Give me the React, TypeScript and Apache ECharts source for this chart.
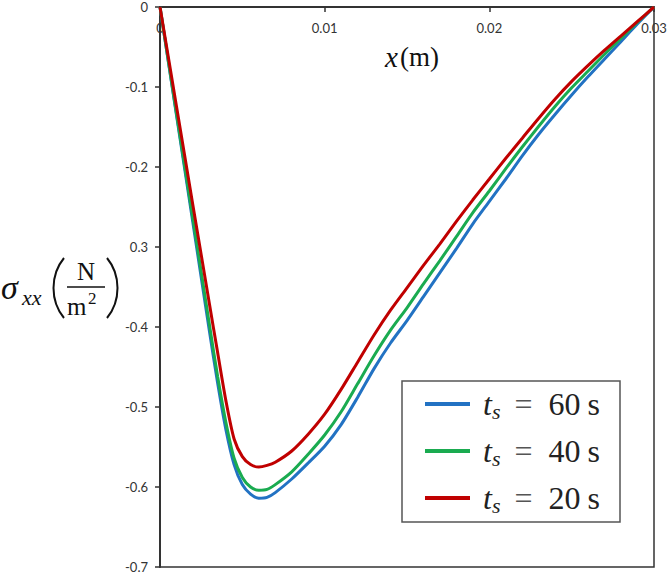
import React, { useEffect, useRef } from "react";
import * as echarts from "echarts";

const xValues = [0, 0.001, 0.002, 0.003, 0.0035, 0.004, 0.0045, 0.005, 0.0055, 0.006, 0.0065, 0.007, 0.008, 0.009, 0.01, 0.011, 0.012, 0.013, 0.014, 0.015, 0.016, 0.017, 0.018, 0.019, 0.02, 0.021, 0.022, 0.023, 0.024, 0.025, 0.026, 0.027, 0.028, 0.029, 0.03];

const ts60 = [0, -0.135, -0.27, -0.405, -0.47, -0.528, -0.572, -0.597, -0.609, -0.614, -0.613, -0.607, -0.59, -0.57, -0.549, -0.522, -0.488, -0.452, -0.42, -0.392, -0.362, -0.332, -0.302, -0.271, -0.243, -0.215, -0.186, -0.159, -0.134, -0.11, -0.087, -0.065, -0.043, -0.021, 0];

const ts40 = [0, -0.133, -0.265, -0.397, -0.462, -0.519, -0.564, -0.588, -0.6, -0.604, -0.603, -0.597, -0.581, -0.559, -0.535, -0.506, -0.471, -0.436, -0.404, -0.376, -0.346, -0.317, -0.287, -0.257, -0.23, -0.202, -0.175, -0.149, -0.124, -0.101, -0.08, -0.059, -0.039, -0.019, 0];

const ts20 = [0, -0.124, -0.248, -0.371, -0.432, -0.492, -0.54, -0.562, -0.572, -0.575, -0.573, -0.569, -0.555, -0.534, -0.509, -0.478, -0.444, -0.41, -0.379, -0.351, -0.323, -0.296, -0.268, -0.241, -0.215, -0.189, -0.164, -0.139, -0.115, -0.093, -0.073, -0.054, -0.036, -0.018, 0];

const seriesNames = ["60", "40", "20"];
const seriesColors = ["#2272C3", "#1AAB50", "#C00000"];
const xTickLabels = ["0", "0.01", "0.02", "0.03"];
const yTickLabels = ["0", "-0.1", "-0.2", "0.3", "-0.4", "-0.5", "-0.6", "-0.7"];

const SERIF = "'Liberation Serif', 'DejaVu Serif', serif";
const SANS = "Lato, 'Liberation Sans', sans-serif";

export default function App() {
  const ref = useRef<HTMLDivElement>(null);

  useEffect(() => {
    if (!ref.current) return;
    const chart = echarts.init(ref.current, null, { renderer: "svg" });
    const allData = [ts60, ts40, ts20];

    const txt = (x: number, y: number, text: string, size: number, italic: boolean, align = "left") => ({
      type: "text",
      x,
      y,
      style: {
        text,
        fontSize: size,
        fontFamily: SERIF,
        fontStyle: italic ? "italic" : "normal",
        fill: "#111",
        textAlign: align,
        align,
        textVerticalAlign: "middle",
        verticalAlign: "middle",
      },
    });

    chart.setOption({
      animation: false,
      backgroundColor: "#fff",
      grid: {
        left: 160,
        right: 15,
        top: 7,
        bottom: 7,
        containLabel: false,
        outerBoundsMode: "none",
        show: true,
        borderColor: "#333",
        borderWidth: 1.5,
        backgroundColor: "transparent",
      },
      xAxis: {
        type: "value",
        position: "top",
        min: 0,
        max: 0.03,
        interval: 0.01,
        axisLine: { show: true, lineStyle: { color: "#333", width: 2 } },
        axisTick: { show: true, inside: true, length: 5, lineStyle: { color: "#333", width: 1.5 } },
        axisLabel: {
          inside: true,
          margin: 14,
          fontSize: 13,
          fontFamily: SANS,
          color: "#333",
          showMinLabel: true,
          showMaxLabel: true,
          formatter: (v: number) => xTickLabels[Math.round(v / 0.01)] ?? "",
        },
        splitLine: { show: false },
      },
      yAxis: {
        type: "value",
        min: -0.7,
        max: 0,
        interval: 0.1,
        axisLine: { show: true, lineStyle: { color: "#333", width: 2 } },
        axisTick: { show: true, inside: false, length: 5, lineStyle: { color: "#333", width: 1.5 } },
        axisLabel: {
          margin: 12,
          fontSize: 13,
          fontFamily: SANS,
          color: "#333",
          showMinLabel: true,
          showMaxLabel: true,
          formatter: (v: number) => yTickLabels[Math.round(-v * 10)] ?? "",
        },
        splitLine: { show: false },
      },
      legend: {
        orient: "vertical",
        left: 420,
        top: 381,
        itemWidth: 45,
        itemHeight: 4,
        itemGap: 11,
        icon: "rect",
        data: seriesNames,
        formatter: (name: string) => `{t|t}{s|s}{e|=}{n|${name}}{u|s}`,
        textStyle: {
          lineHeight: 36,
          rich: {
            t: { fontFamily: SERIF, fontStyle: "italic", fontSize: 32, color: "#222", padding: [0, 0, 0, 8] },
            s: { fontFamily: SERIF, fontStyle: "italic", fontSize: 22, color: "#222", verticalAlign: "bottom" },
            e: { fontFamily: SERIF, fontSize: 32, color: "#555", padding: [0, 16, 0, 14] },
            n: { fontFamily: SERIF, fontSize: 32, color: "#222" },
            u: { fontFamily: SERIF, fontSize: 32, color: "#222", padding: [0, 0, 0, 7] },
          },
        },
      },
      graphic: [
        {
          type: "rect",
          shape: { x: 402, y: 381, width: 218, height: 141 },
          style: { fill: "transparent", stroke: "#555", lineWidth: 1.5 },
          z: 3,
        },
        {
          type: "text",
          x: 412,
          y: 57,
          style: {
            text: "{i|x}{n|(m)}",
            textAlign: "center",
            align: "center",
            textVerticalAlign: "middle",
            verticalAlign: "middle",
            rich: {
              i: { fontFamily: SERIF, fontStyle: "italic", fontSize: 29, fill: "#111", color: "#111" },
              n: { fontFamily: SERIF, fontSize: 27, fill: "#111", color: "#111", padding: [0, 0, 0, 2] },
            },
          },
        },
        txt(1, 287, "σ", 34, true),
        txt(22, 297, "xx", 22, true),
        {
          type: "bezierCurve",
          shape: { x1: 64, y1: 258, x2: 64, y2: 318, cpx1: 50, cpy1: 275, cpx2: 50, cpy2: 301 },
          style: { stroke: "#111", lineWidth: 2, fill: "none" },
        },
        txt(86, 271, "N", 25, false, "center"),
        {
          type: "line",
          shape: { x1: 67, y1: 287, x2: 105, y2: 287 },
          style: { stroke: "#111", lineWidth: 1.5 },
        },
        txt(67, 306, "m", 25, false),
        txt(88, 298, "2", 17, false),
        {
          type: "bezierCurve",
          shape: { x1: 107, y1: 258, x2: 107, y2: 318, cpx1: 121, cpy1: 275, cpx2: 121, cpy2: 301 },
          style: { stroke: "#111", lineWidth: 2, fill: "none" },
        },
      ],
      series: seriesNames.map((name, k) => ({
        name,
        type: "line",
        showSymbol: false,
        symbol: "none",
        smooth: 0.25,
        color: seriesColors[k],
        lineStyle: { width: 3, color: seriesColors[k] },
        data: xValues.map((x, i) => [x, allData[k][i]]),
        z: 2 + k,
      })),
    });

    return () => chart.dispose();
  }, []);

  return (
    <div
      ref={ref}
      style={{ position: "absolute", left: 0, top: 0, width: 669, height: 574 }}
    />
  );
}
